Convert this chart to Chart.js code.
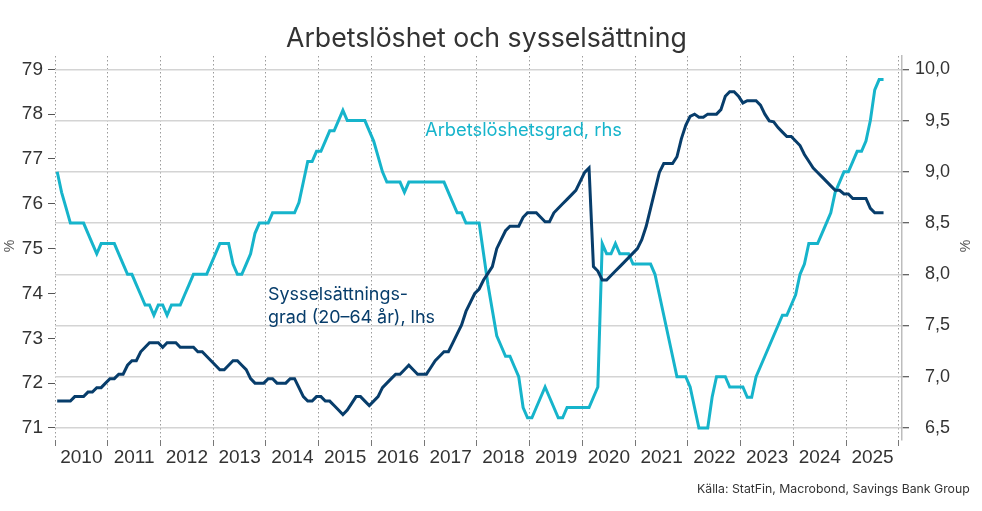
<!DOCTYPE html>
<html lang="sv">
<head>
<meta charset="utf-8">
<title>Arbetslöshet och sysselsättning</title>
<script src="https://cdn.jsdelivr.net/npm/chart.js@4.4.0/dist/chart.umd.min.js"></script>
<style>
  html, body { margin: 0; padding: 0; background: #fff; }
  canvas { display: block; }
</style>
</head>
<body>
<canvas id="chart" width="982" height="511"></canvas>
<script>
"use strict";

// Årtal på x-axeln (månadsdata från jan 2010)
const years = ['2010', '2011', '2012', '2013', '2014', '2015', '2016', '2017',
    '2018', '2019', '2020', '2021', '2022', '2023', '2024', '2025'];

// Sysselsättningsgrad (20–64 år), %, vänster axel
const employment = [
    71.6, 71.6, 71.6, 71.6, 71.7, 71.7, 71.7, 71.8, 71.8, 71.9,
    71.9, 72.0, 72.1, 72.1, 72.2, 72.2, 72.4, 72.5, 72.5, 72.7,
    72.8, 72.9, 72.9, 72.9, 72.8, 72.9, 72.9, 72.9, 72.8, 72.8,
    72.8, 72.8, 72.7, 72.7, 72.6, 72.5, 72.4, 72.3, 72.3, 72.4,
    72.5, 72.5, 72.4, 72.3, 72.1, 72.0, 72.0, 72.0, 72.1, 72.1,
    72.0, 72.0, 72.0, 72.1, 72.1, 71.9, 71.7, 71.6, 71.6, 71.7,
    71.7, 71.6, 71.6, 71.5, 71.4, 71.3, 71.4, 71.55, 71.7, 71.7,
    71.6, 71.5, 71.6, 71.7, 71.9, 72.0, 72.1, 72.2, 72.2, 72.3,
    72.4, 72.3, 72.2, 72.2, 72.2, 72.35, 72.5, 72.6, 72.7, 72.7,
    72.9, 73.1, 73.3, 73.6, 73.8, 74.0, 74.1, 74.3, 74.45, 74.6,
    75.0, 75.2, 75.4, 75.5, 75.5, 75.5, 75.7, 75.8, 75.8, 75.8,
    75.7, 75.6, 75.6, 75.8, 75.9, 76.0, 76.1, 76.2, 76.3, 76.5,
    76.7, 76.8, 74.6, 74.5, 74.3, 74.3, 74.4, 74.5, 74.6, 74.7,
    74.8, 74.9, 75.0, 75.2, 75.5, 75.9, 76.3, 76.7, 76.9, 76.9,
    76.9, 77.05, 77.45, 77.75, 77.95, 78.0, 77.93, 77.93, 78.0, 78.0,
    78.0, 78.1, 78.4, 78.5, 78.5, 78.4, 78.25, 78.3, 78.3, 78.3,
    78.2, 78.0, 77.85, 77.83, 77.7, 77.6, 77.5, 77.5, 77.4, 77.3,
    77.1, 76.95, 76.8, 76.7, 76.6, 76.5, 76.4, 76.3, 76.3, 76.22,
    76.22, 76.12, 76.12, 76.12, 76.12, 75.9, 75.8, 75.8, 75.8
];

// Arbetslöshetsgrad, %, höger axel
const unemployment = [
    9.0, 8.8, 8.65, 8.5, 8.5, 8.5, 8.5, 8.4, 8.3, 8.2,
    8.3, 8.3, 8.3, 8.3, 8.2, 8.1, 8.0, 8.0, 7.9, 7.8,
    7.7, 7.7, 7.6, 7.7, 7.7, 7.6, 7.7, 7.7, 7.7, 7.8,
    7.9, 8.0, 8.0, 8.0, 8.0, 8.1, 8.2, 8.3, 8.3, 8.3,
    8.1, 8.0, 8.0, 8.1, 8.2, 8.4, 8.5, 8.5, 8.5, 8.6,
    8.6, 8.6, 8.6, 8.6, 8.6, 8.7, 8.9, 9.1, 9.1, 9.2,
    9.2, 9.3, 9.4, 9.4, 9.5, 9.6, 9.5, 9.5, 9.5, 9.5,
    9.5, 9.4, 9.3, 9.15, 9.0, 8.9, 8.9, 8.9, 8.9, 8.8,
    8.9, 8.9, 8.9, 8.9, 8.9, 8.9, 8.9, 8.9, 8.9, 8.8,
    8.7, 8.6, 8.6, 8.5, 8.5, 8.5, 8.5, 8.2, 7.9, 7.65,
    7.4, 7.3, 7.2, 7.2, 7.1, 7.0, 6.7, 6.6, 6.6, 6.7,
    6.8, 6.9, 6.8, 6.7, 6.6, 6.6, 6.7, 6.7, 6.7, 6.7,
    6.7, 6.7, 6.8, 6.9, 8.3, 8.2, 8.2, 8.3, 8.2, 8.2,
    8.2, 8.1, 8.1, 8.1, 8.1, 8.1, 8.0, 7.8, 7.6, 7.4,
    7.2, 7.0, 7.0, 7.0, 6.9, 6.7, 6.5, 6.5, 6.5, 6.8,
    7.0, 7.0, 7.0, 6.9, 6.9, 6.9, 6.9, 6.8, 6.8, 7.0,
    7.1, 7.2, 7.3, 7.4, 7.5, 7.6, 7.6, 7.7, 7.8, 8.0,
    8.1, 8.3, 8.3, 8.3, 8.4, 8.5, 8.6, 8.8, 8.9, 9.0,
    9.0, 9.1, 9.2, 9.2, 9.3, 9.5, 9.8, 9.9, 9.9
];

// Skalsteg
const leftTicks = [71, 72, 73, 74, 75, 76, 77, 78, 79];
const rightTicks = [6.5, 7.0, 7.5, 8.0, 8.5, 9.0, 9.5, 10.0];

const titleText = 'Arbetslöshet och sysselsättning';
const unempLabel = 'Arbetslöshetsgrad, rhs';
const empLabel = ['Sysselsättnings-', 'grad (20–64 år), lhs'];
const sourceText = 'Källa: StatFin, Macrobond, Savings Bank Group';

const navy = '#073d6b';
const cyan = '#16b4cb';

// punkt i mitten av månaden
const toPoints = arr => arr.map((v, i) => ({ x: i + 0.5, y: v }));

// skriv text så att den får en viss bredd
function fitFont(ctx, text, family, width) {
    ctx.font = '100px ' + family;
    const size = 100 * width / ctx.measureText(text).width;
    ctx.font = size.toFixed(2) + 'px ' + family;
}

const textPlugin = {
    id: 'texts',
    afterDraw(chart) {
        const ctx = chart.ctx;
        ctx.save();
        ctx.textBaseline = 'alphabetic';
        ctx.textAlign = 'left';

        ctx.fillStyle = '#333';
        fitFont(ctx, titleText, 'Inter', 401);
        ctx.fillText(titleText, 286, 47);

        ctx.fillStyle = cyan;
        fitFont(ctx, unempLabel, 'Inter', 197);
        ctx.fillText(unempLabel, 425, 136);

        ctx.fillStyle = navy;
        fitFont(ctx, empLabel[1], 'Inter', 167);
        ctx.fillText(empLabel[0], 268, 300);
        ctx.fillText(empLabel[1], 268, 323);

        ctx.fillStyle = '#333';
        fitFont(ctx, sourceText, 'Inter', 273);
        ctx.fillText(sourceText, 697, 493);

        // procenttecken vid axlarna
        ctx.fillStyle = '#555';
        ctx.font = '14px "Liberation Sans"';
        ctx.textAlign = 'center';
        ctx.textBaseline = 'middle';
        [[10, 246], [966, 246]].forEach(([x, y]) => {
            ctx.save();
            ctx.translate(x, y);
            ctx.rotate(-Math.PI / 2);
            ctx.fillText('%', 0, 0);
            ctx.restore();
        });
        ctx.restore();
    }
};

const tickFont = { family: 'Liberation Sans', size: 19 };

new Chart(document.getElementById('chart'), {
    type: 'line',
    data: {
        datasets: [{
            label: 'Sysselsättningsgrad (20–64 år), lhs',
            data: toPoints(employment),
            borderColor: navy,
            borderWidth: 3,
            pointRadius: 0,
            tension: 0,
            yAxisID: 'y'
        }, {
            label: 'Arbetslöshetsgrad, rhs',
            data: toPoints(unemployment),
            borderColor: cyan,
            borderWidth: 3,
            pointRadius: 0,
            tension: 0,
            yAxisID: 'y2'
        }]
    },
    options: {
        responsive: false,
        animation: false,
        events: [],
        layout: { padding: { top: 56, left: 0, right: 32, bottom: 0 } },
        plugins: {
            legend: { display: false },
            tooltip: { enabled: false }
        },
        scales: {
            x: {
                type: 'linear',
                min: 0,
                max: 192.7,
                afterBuildTicks: s => {
                    const t = [];
                    for (let m = 0; m <= years.length * 12; m += 6) t.push({ value: m });
                    s.ticks = t;
                },
                afterFit: s => { s.height = 71; },
                ticks: {
                    autoSkip: false,
                    maxRotation: 0,
                    padding: 0,
                    color: '#333',
                    font: tickFont,
                    callback: v => (v % 12 === 6 ? years[(v - 6) / 12] : '')
                },
                grid: {
                    color: c => (c.tick && c.tick.value % 12 === 0 ? '#9b9b9b' : 'rgba(0,0,0,0)'),
                    tickColor: c => (c.tick && c.tick.value % 12 === 0 ? '#777' : 'rgba(0,0,0,0)'),
                    lineWidth: 1,
                    tickLength: 6
                },
                border: { display: false, dash: [1.5, 2.5] }
            },
            y: {
                position: 'left',
                min: 70.732,
                max: 79.297,
                afterBuildTicks: s => { s.ticks = leftTicks.map(v => ({ value: v })); },
                afterFit: s => { s.width = 55; },
                ticks: { color: '#333', font: tickFont, padding: 5 },
                grid: { drawOnChartArea: false, tickLength: 7, tickColor: '#555', lineWidth: 1 },
                border: { display: false }
            },
            y2: {
                position: 'right',
                min: 6.383,
                max: 10.13,
                afterBuildTicks: s => { s.ticks = rightTicks.map(v => ({ value: v })); },
                afterFit: s => { s.width = 48; },
                ticks: {
                    color: '#333',
                    font: { family: 'Liberation Sans', size: 18 },
                    padding: 6,
                    crossAlign: 'far',
                    callback: v => v.toFixed(1).replace('.', ',')
                },
                grid: { color: '#d4d4d4', lineWidth: 1.5, tickLength: 7, tickColor: '#333', tickWidth: 1 },
                border: { display: true, color: '#bdbdbd', width: 1.5 }
            }
        }
    },
    plugins: [textPlugin]
});
</script>
</body>
</html>
